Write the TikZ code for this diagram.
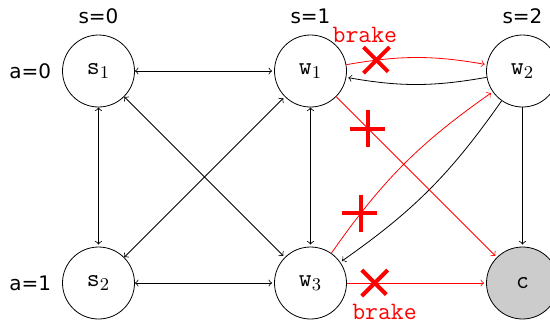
\documentclass[tikz,border=0pt]{standalone}
\usepackage{fontspec}
\setsansfont{DejaVu Sans}
\usetikzlibrary{automata,positioning,shapes.misc}

\begin{document}
\begin{tikzpicture}[->,>=to,shorten >=1pt,node distance=106pt,
                    label distance=2pt,thin]

  \tikzstyle{every state}=[circle,draw,minimum size=36pt,inner sep=0pt,
                           font=\fontsize{12.5}{15}\selectfont\ttfamily]
  \tikzstyle{every label}=[font=\sffamily]
  \tikzstyle{cutmark}=[-,cross out,draw=red,line width=2pt,minimum size=11pt,
                       inner sep=0pt,anchor=center]
  \tikzstyle{brakelabel}=[red,font=\fontsize{12.5}{15}\selectfont\ttfamily]

  \useasboundingbox (-49.25pt,-126pt) rectangle (225.75pt,35.5pt);

  \node[state,label={above:s=0},label={left:a=0}] (s1)              {s$_1$};
  \node[state,label={above:s=1}]                  (w1) [right of=s1] {w$_1$};
  \node[state,label={above:s=2}]                  (w2) [right of=w1] {w$_2$};
  \node[state,label={left:a=1}]                   (s2) [below of=s1] {s$_2$};
  \node[state]                                    (w3) [right of=s2] {w$_3$};
  \node[state,fill=black!20]                      (c)  [right of=w3] {c};

  \path
  (s1) edge [<->] (w1)
  (s2) edge [<->] (w3)
  (s1) edge [<->] (s2)
  (w1) edge [<->] (w3)
  (s1) edge [<->] (w3)
  (s2) edge [<->] (w1)
  (w2) edge [bend left=10] (w1)
  (w2) edge [bend left=10] (w3)
  (w2) edge (c)
  (w1) edge [red,bend left=10] node[cutmark,pos=0.2] (m1) {}
            node[brakelabel,above=6pt,pos=0.12] (b1) {brake} (w2)
  (w1) edge [red] node[cutmark,rotate=45,pos=0.2] (m2) {} (c)
  (w3) edge [red,bend left=10] node[cutmark,rotate=45,pos=0.2] (m3) {} (w2)
  (w3) edge [red] node[cutmark,pos=0.2] (m4) {}
            node[brakelabel,below=7pt,pos=0.27] (b2) {brake} (c)
  ;
\end{tikzpicture}
\end{document}
